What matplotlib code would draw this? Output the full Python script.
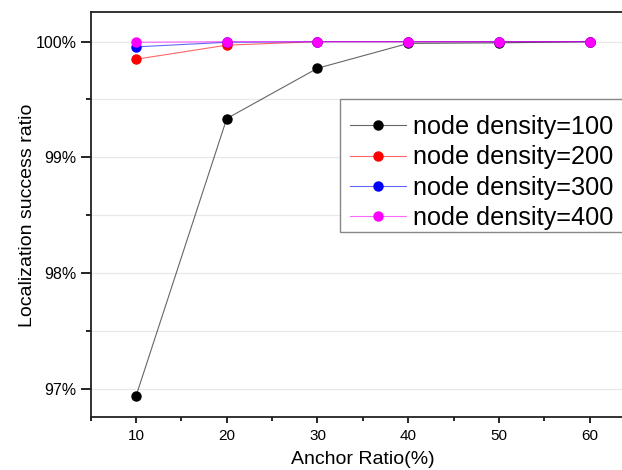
import numpy as np
import matplotlib
matplotlib.use("Agg")
import matplotlib.pyplot as plt
from matplotlib.patches import Rectangle
from matplotlib.ticker import MultipleLocator, FuncFormatter

plt.rcParams["font.family"] = ["Liberation Sans", "DejaVu Sans"]

# anchor ratio (%) and localization success ratio (%) per node density
anchor_ratio = [10, 20, 30, 40, 50, 60]
density_100 = [96.935, 99.335, 99.77, 99.985, 99.99, 100.0]
density_200 = [99.848, 99.97, 100.0, 100.0, 100.0, 100.0]
density_300 = [99.955, 99.995, 100.0, 100.0, 100.0, 100.0]
density_400 = [99.995, 100.0, 100.0, 100.0, 100.0, 100.0]

series = [
    ("node density=100", density_100, "black"),
    ("node density=200", density_200, "red"),
    ("node density=300", density_300, "blue"),
    ("node density=400", density_400, "magenta"),
]

fig = plt.figure(figsize=(6.22, 4.70), dpi=100)
ax = fig.add_axes([0.1458, 0.1121, 0.875, 0.8617])

for label, vals, col in series:
    line_col = matplotlib.colors.to_rgba(col, 0.6)
    ax.plot(anchor_ratio, vals, color=line_col, lw=0.8, marker="o",
            markersize=6.5, markerfacecolor=col, markeredgecolor=col,
            label=label)

ax.set_xlim(5, 65)
ax.set_ylim(96.751, 100.254)
ax.xaxis.set_major_locator(MultipleLocator(10))
ax.xaxis.set_minor_locator(MultipleLocator(5))
ax.yaxis.set_major_locator(MultipleLocator(1))
ax.yaxis.set_minor_locator(MultipleLocator(0.5))
ax.yaxis.set_major_formatter(FuncFormatter(lambda v, p: f"{v:.0f}%"))

ax.grid(True, which="both", axis="y", color="#e8e8e8", lw=0.9)
ax.set_axisbelow(True)

for s in ax.spines.values():
    s.set_linewidth(1.3)
    s.set_color("#222222")

ax.tick_params(axis="x", which="major", direction="out", length=4.5,
               width=1.2, labelsize=11, pad=4)
ax.tick_params(axis="x", which="minor", direction="out", length=3, width=1.2)
ax.tick_params(axis="y", which="major", direction="out", length=7,
               width=1.2, labelsize=11.5, pad=3)
ax.tick_params(axis="y", which="minor", direction="out", length=3.5,
               width=1.2)

ax.set_xlabel("Anchor Ratio(%)", fontsize=14, labelpad=6)
ax.set_ylabel("Localization success ratio", fontsize=14, labelpad=0)

# legend box: white frame with a gray edge, running off the right edge
box = Rectangle((340 / 622, 1 - 231.7 / 470), 300 / 622, 133 / 470,
                transform=fig.transFigure, facecolor="white",
                edgecolor="#888888", lw=1.0, zorder=4)
ax.add_artist(box)
box.set_clip_on(False)

leg = ax.legend(loc="upper left", bbox_to_anchor=(340 / 622, 1 - 105 / 470),
                bbox_transform=fig.transFigure, fontsize=18.2, frameon=False,
                handlelength=2.2, handletextpad=0.3, labelspacing=0.25,
                borderpad=0.4, borderaxespad=0)
leg.set_zorder(5)

fig.savefig("out.png", dpi=100)
